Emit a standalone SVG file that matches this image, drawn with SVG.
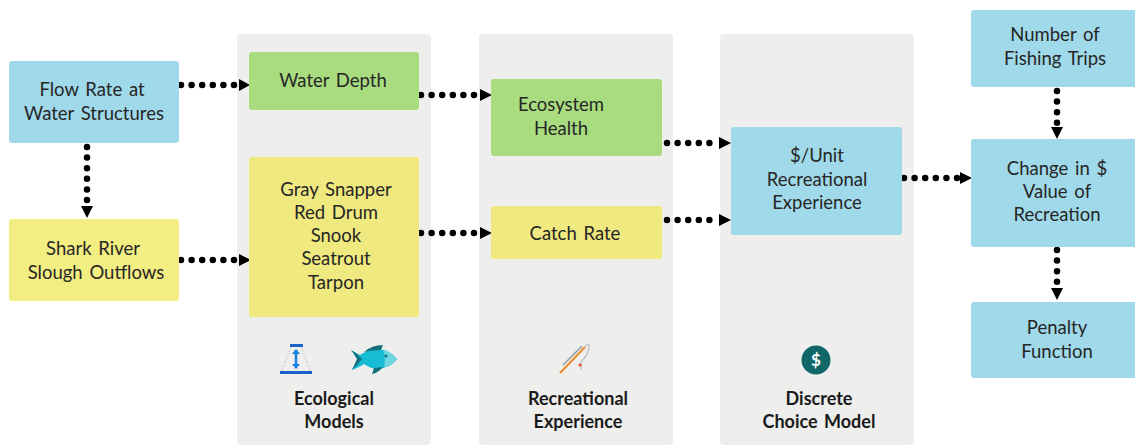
<svg xmlns="http://www.w3.org/2000/svg" width="1135" height="445" viewBox="0 0 1135 445">
<style>
text{font-family:Lato,"Open Sans","Liberation Sans",sans-serif;font-size:18.500px;word-spacing:2px;fill:#262626;text-anchor:middle}
.b{font-weight:700;font-size:18px;fill:#1a1a1a}
.panel{fill:#eeeeed}
.blue{fill:#a0d9e9}.green{fill:#a8dc7f}.yellow{fill:#f3ee82}.yellow2{fill:#efe97f}
.c{fill:none;stroke:#000;stroke-width:6.500;stroke-linecap:round;stroke-dasharray:0 10.600}
.h{fill:#000}
</style>
<rect width="1135" height="445" fill="#fff"/>
<g id="panels">
<rect class="panel" x="237" y="34" width="194" height="411" rx="4"/>
<rect class="panel" x="479" y="34" width="194" height="411" rx="4"/>
<rect class="panel" x="720" y="34" width="194" height="411" rx="4"/>
</g>
<g id="connectors">
<path class="c" d="M181 85H238"/><path class="h" d="M239 79L250 85L239 91Z"/>
<path class="c" d="M87 147V205"/><path class="h" d="M81 206L87 218L93 206Z"/>
<path class="c" d="M181 260H238"/><path class="h" d="M239 254L251 260L239 266Z"/>
<path class="c" d="M421 95H480"/><path class="h" d="M480 89L492 95L480 101Z"/>
<path class="c" d="M421 233H480"/><path class="h" d="M480 227L492 233L480 239Z"/>
<path class="c" d="M667 143H720"/><path class="h" d="M719 137L731 143L719 149Z"/>
<path class="c" d="M667 220H720"/><path class="h" d="M719 214L731 220L719 226Z"/>
<path class="c" d="M904 178H960"/><path class="h" d="M960 172L972 178L960 184Z"/>
<path class="c" d="M1057 91V127"/><path class="h" d="M1051 127L1057 139L1063 127Z"/>
<path class="c" d="M1057 250V288"/><path class="h" d="M1051 288L1057 300L1063 288Z"/>
</g>
<g id="flow-rate"><rect class="blue" x="9" y="61" width="170" height="82" rx="3"/><text x="92" y="96">Flow Rate at</text><text x="94" y="120">Water Structures</text></g>
<g id="shark-river"><rect class="yellow" x="9" y="219" width="170" height="82" rx="3"/><text x="93" y="255">Shark River</text><text x="96" y="279">Slough Outflows</text></g>
<g id="water-depth"><rect class="green" x="249" y="52" width="170" height="58" rx="3"/><text x="333" y="87">Water Depth</text></g>
<g id="species"><rect class="yellow2" x="249" y="157" width="170" height="160" rx="3"/><text x="336" y="196">Gray Snapper</text><text x="336" y="219">Red Drum</text><text x="336" y="242">Snook</text><text x="336" y="265">Seatrout</text><text x="336" y="289">Tarpon</text></g>
<g id="ecosystem-health"><rect class="green" x="491" y="79" width="171" height="77" rx="3"/><text x="561" y="111">Ecosystem</text><text x="561" y="135">Health</text></g>
<g id="catch-rate"><rect class="yellow2" x="491" y="206" width="171" height="53" rx="3"/><text x="575" y="240">Catch Rate</text></g>
<g id="unit-value"><rect class="blue" x="731" y="127" width="171" height="108" rx="3"/><text x="817" y="162">$/Unit</text><text x="817" y="186">Recreational</text><text x="817" y="209">Experience</text></g>
<g id="fishing-trips"><rect class="blue" x="971" y="10" width="168" height="77" rx="3"/><text x="1055" y="41">Number of</text><text x="1055" y="65">Fishing Trips</text></g>
<g id="change-value"><rect class="blue" x="971" y="139" width="168" height="108" rx="3"/><text x="1057" y="175">Change in $</text><text x="1057" y="198">Value of</text><text x="1057" y="221">Recreation</text></g>
<g id="penalty"><rect class="blue" x="971" y="302" width="168" height="76" rx="3"/><text x="1057" y="334">Penalty</text><text x="1057" y="358">Function</text></g>
<g id="ecological-icons">
<path d="M291 346L282 371M301 346L310 371" stroke="#c4c4c4" stroke-dasharray="2 2" fill="none"/>
<rect x="290" y="344" width="13" height="3" fill="#1a62c8"/><rect x="280" y="371" width="32" height="3" fill="#1a62c8"/>
<path d="M296 350V368" stroke="#1a7fe0" stroke-width="2.500"/><path d="M292 354L296 349L300 354ZM292 364L296 369L300 364Z" fill="#1a7fe0"/>
<path d="M351 350Q355 355 357 359Q355 364 352 370Q360 367 364 364Q375 372 386 367Q394 364 397 359Q390 350 377 349Q367 350 360 355Q356 353 351 350Z" fill="#18bcd4"/>
<path d="M351 350Q355 355 357 359Q355 364 352 370Q358 365 362 359Q358 354 351 350Z" fill="#13707a"/>
<path d="M364 352Q372 345 383 345L381 350Q372 350 364 352ZM374 368L372 374Q378 373 383 367Z" fill="#13707a"/>
<path d="M383 349Q392 352 397 359Q392 365 384 367Q386 358 383 349Z" fill="#6fd5e0"/>
<circle cx="386" cy="356" r="1.500" fill="#13707a"/>
</g>
<g id="rod-icon">
<path d="M560 373L585 347" stroke="#f08a2a" stroke-width="2" fill="none"/>
<path d="M563 365L582 346" stroke="#8a9aa3" stroke-width="1.500" fill="none"/>
<path d="M585 346Q590 342 589 349Q587 356 581 362V370" stroke="#b4bec4" stroke-width="1.200" fill="none"/>
<circle cx="580" cy="365" r="1.500" fill="#e8502a"/>
</g>
<g id="dollar-icon"><circle cx="816" cy="360" r="14.500" fill="#0f6767"/><text x="816" y="366" style="font-size:17px;font-weight:700;fill:#fff">$</text></g>
<g id="labels">
<text class="b" x="334" y="405">Ecological</text><text class="b" x="334" y="428">Models</text>
<text class="b" x="578" y="405">Recreational</text><text class="b" x="578" y="428">Experience</text>
<text class="b" x="819" y="405">Discrete</text><text class="b" x="819" y="428">Choice Model</text>
</g>
</svg>
